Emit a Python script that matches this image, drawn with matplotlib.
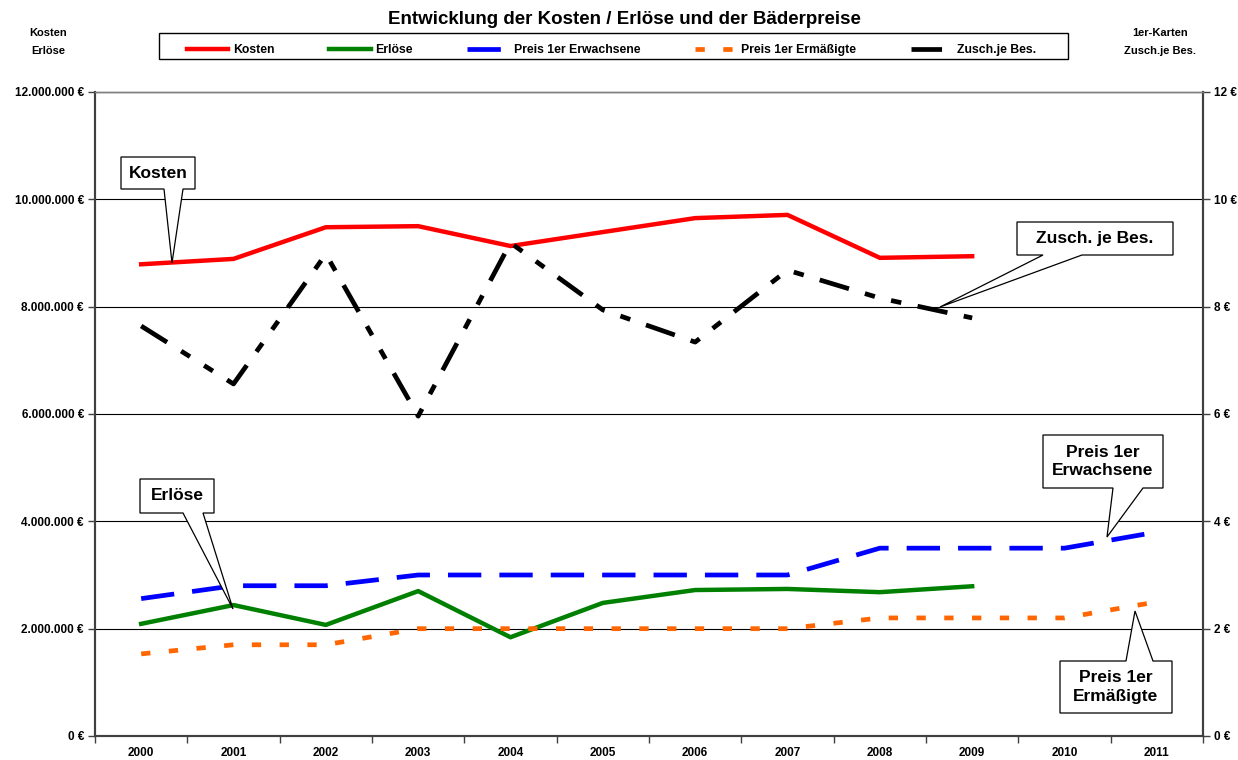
import matplotlib
matplotlib.use("Agg")
import matplotlib.pyplot as plt
from matplotlib.patches import Polygon, Rectangle
from matplotlib.ticker import FuncFormatter, MultipleLocator

plt.rcParams['font.family'] = ['Liberation Sans', 'DejaVu Sans']
plt.rcParams['font.weight'] = 'bold'
plt.rcParams['lines.scale_dashes'] = False

# Daten
jahre = ['2000', '2001', '2002', '2003', '2004', '2005', '2006', '2007', '2008', '2009', '2010', '2011']
kosten = [8.79e6, 8.89e6, 9.48e6, 9.50e6, 9.13e6, 9.39e6, 9.65e6, 9.71e6, 8.91e6, 8.94e6]
erloese = [2.09e6, 2.44e6, 2.07e6, 2.70e6, 1.84e6, 2.48e6, 2.72e6, 2.74e6, 2.68e6, 2.79e6]
preis_erw = [2.56, 2.80, 2.80, 3.00, 3.00, 3.00, 3.00, 3.00, 3.50, 3.50, 3.50, 3.80]
preis_erm = [1.53, 1.70, 1.70, 2.00, 2.00, 2.00, 2.00, 2.00, 2.20, 2.20, 2.20, 2.50]
zuschuss = [7.64, 6.56, 8.98, 5.96, 9.19, 7.94, 7.34, 8.68, 8.16, 7.79]

W, H = 1238, 760
fig = plt.figure(figsize=(W / 100, H / 100), dpi=100)
ax = fig.add_axes([95 / W, 1 - 736 / H, 1108 / W, 644 / H])
ax2 = ax.twinx()

x_all = range(len(jahre))

l1, = ax.plot(range(len(kosten)), kosten, color='#FF0000', lw=3.2, label='Kosten', zorder=3)
l2, = ax.plot(range(len(erloese)), erloese, color='#008000', lw=3.2, label='Erlöse', zorder=3)
l3, = ax2.plot(x_all, preis_erw, color='#0000FF', lw=3.4, dashes=(24, 13), label='Preis 1er Erwachsene')
l4, = ax2.plot(x_all, preis_erm, color='#FF6600', lw=3.4, dashes=(6.7, 13.3), label='Preis 1er Ermäßigte')
l5, = ax2.plot(range(len(zuschuss)), zuschuss, color='black', lw=3.4,
               dashes=(22, 12, 7.5, 12, 7.5, 12), label='Zusch.je Bes.')

ax.set_xlim(-0.5, len(jahre) - 0.5)
ax.set_ylim(0, 12e6)
ax2.set_ylim(0, 12)

ax.yaxis.set_major_locator(MultipleLocator(2e6))
ax2.yaxis.set_major_locator(MultipleLocator(2))
ax.yaxis.set_major_formatter(FuncFormatter(lambda v, p: f"{int(v):,} €".replace(',', '.')))
ax2.yaxis.set_major_formatter(FuncFormatter(lambda v, p: f"{int(v)} €"))
ax.grid(axis='y', color='black', lw=0.8)
ax.set_axisbelow(True)

ax.set_xticks(list(x_all))
ax.set_xticklabels(jahre)
ax.set_xticks([i - 0.5 for i in range(len(jahre) + 1)], minor=True)
ax.tick_params(axis='x', which='major', length=0, pad=8, labelsize=8.5)
ax.tick_params(axis='x', which='minor', length=5, width=1, color='#404040')
ax.tick_params(axis='y', length=5, width=1, color='#404040', labelsize=8.5, pad=3)
ax2.tick_params(axis='y', length=5, width=1, color='#404040', labelsize=8.5, pad=3)

for a in (ax, ax2):
    for s in ['left', 'right', 'bottom']:
        a.spines[s].set_color('#404040')
        a.spines[s].set_linewidth(1.5)
    a.spines['top'].set_color('#808080')
    a.spines['top'].set_linewidth(1)

fig.text(624 / W, 1 - 20 / H, 'Entwicklung der Kosten / Erlöse und der Bäderpreise',
         ha='center', va='center', fontsize=13.5, fontweight='bold')
fig.text(48 / W, 1 - 42 / H, 'Kosten\nErlöse', ha='center', va='center', fontsize=8, linespacing=1.9)
fig.text(1160 / W, 1 - 42 / H, '1er-Karten\nZusch.je Bes.', ha='center', va='center', fontsize=8, linespacing=1.9)

# Legendenrahmen
fig.add_artist(Rectangle((159 / W, 1 - 59 / H), 909 / W, 26 / H, transform=fig.transFigure,
                         facecolor='white', edgecolor='black', lw=1, zorder=5))
leg = fig.legend(handles=[l1, l2, l3, l4, l5], loc='lower left', ncol=5, mode='expand',
                 bbox_to_anchor=(183 / W, 1 - 60 / H, 857 / W, 26 / H),
                 frameon=False, fontsize=8.8,
                 handlelength=3.4, handletextpad=0.4, borderpad=0.3, borderaxespad=0)
leg.set_zorder(6)


def fp(x, y):
    return (x / W, 1 - y / H)


def callout(box, base, tip, text, side='bottom', fs=12.5):
    x0, y0, x1, y1 = box
    b0, b1 = base
    if side == 'bottom':
        pts = [(x0, y0), (x1, y0), (x1, y1), (b1, y1), tip, (b0, y1), (x0, y1)]
    else:
        pts = [(x0, y0), (b0, y0), tip, (b1, y0), (x1, y0), (x1, y1), (x0, y1)]
    poly = Polygon([fp(*p) for p in pts], closed=True, facecolor='white', edgecolor='black',
                   lw=0.9, transform=fig.transFigure, zorder=10)
    fig.add_artist(poly)
    fig.text(*fp((x0 + x1) / 2, (y0 + y1) / 2), text, ha='center', va='center',
             fontsize=fs, fontweight='bold', zorder=11, linespacing=1.25)


callout((121, 157, 195, 189), (164, 183), (172, 263), 'Kosten')
callout((1017, 222, 1173, 255), (1043, 1082), (940, 307), 'Zusch. je Bes.')
callout((140, 479, 214, 513), (183, 203), (233, 609), 'Erlöse')
callout((1043, 435, 1163, 488), (1113, 1143), (1107, 537), 'Preis 1er\nErwachsene')
callout((1060, 661, 1172, 713), (1126, 1153), (1135, 611), 'Preis 1er\nErmäßigte', side='top')

fig.savefig('out.png', dpi=100)
